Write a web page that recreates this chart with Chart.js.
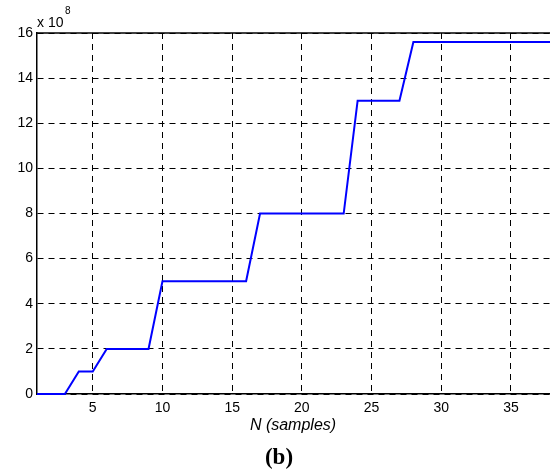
<!DOCTYPE html>
<html>
<head>
<meta charset="utf-8">
<script src="https://cdn.jsdelivr.net/npm/chart.js@4/dist/chart.umd.min.js"></script>
<style>
  html, body { margin: 0; padding: 0; background: #fff; }
  #wrap { width: 550px; height: 472px; }
</style>
</head>
<body>
<div id="wrap"><canvas id="stepChart" width="550" height="472"></canvas></div>
<script>
// samples N and values (x 10^8)
const samples = [1, 2, 3, 4, 5, 6, 7, 8, 9, 10, 11, 12, 13, 14, 15, 16, 17, 18, 19, 20,
  21, 22, 23, 24, 25, 26, 27, 28, 29, 30, 31, 32, 33, 34, 35, 36, 37, 38];
const values = [0, 0, 0, 1, 1, 2, 2, 2, 2, 5, 5, 5, 5, 5, 5, 5, 8, 8, 8, 8,
  8, 8, 8, 13, 13, 13, 13, 15.6, 15.6, 15.6, 15.6, 15.6, 15.6, 15.6, 15.6, 15.6, 15.6, 15.6];
const xTicks = [5, 10, 15, 20, 25, 30, 35];
const yTicks = [0, 2, 4, 6, 8, 10, 12, 14, 16];

const tickFont = { family: 'Liberation Sans, Arial, sans-serif', size: 14 };

// extra texts + solid top border
const extras = {
  id: 'extras',
  afterDraw(chart) {
    const { ctx, chartArea } = chart;
    ctx.save();
    ctx.strokeStyle = '#000';
    ctx.lineWidth = 1.5;
    ctx.beginPath();
    ctx.moveTo(chartArea.left, chartArea.top);
    ctx.lineTo(chartArea.right, chartArea.top);
    ctx.stroke();

    ctx.fillStyle = '#000';
    ctx.textBaseline = 'middle';
    ctx.textAlign = 'left';
    ctx.font = '14px Liberation Sans, Arial, sans-serif';
    ctx.fillText('x 10', 37, 23);
    ctx.font = '10px Liberation Sans, Arial, sans-serif';
    ctx.fillText('8', 65, 11);

    ctx.textAlign = 'center';
    ctx.font = 'italic 16px Liberation Sans, Arial, sans-serif';
    ctx.fillText('N (samples)', 293, 426);
    ctx.font = 'bold 23px Liberation Serif, Times New Roman, serif';
    ctx.fillText('(b)', 279, 458);
    ctx.restore();
  }
};

const ctxStep = document.getElementById('stepChart').getContext('2d');
const stepChart = new Chart(ctxStep, {
  type: 'line',
  data: {
    datasets: [
      {
        data: samples.map((x, i) => ({ x: x, y: values[i] })),
        borderColor: '#0000ff',
        borderWidth: 2,
        pointRadius: 0,
        tension: 0,
        fill: false,
        clip: 3,
      },
    ],
  },
  options: {
    responsive: false,
    animation: false,
    layout: { padding: { top: 33, right: 0, bottom: 0, left: 0 } },
    plugins: {
      legend: { display: false },
      tooltip: { enabled: false },
    },
    scales: {
      x: {
        type: 'linear',
        min: 1,
        max: 37.8,
        afterBuildTicks: (axis) => { axis.ticks = xTicks.map(v => ({ value: v })); },
        afterFit: (axis) => { axis.height = 78; },
        ticks: { color: '#000', font: tickFont, padding: 6, maxRotation: 0 },
        grid: { color: '#000', lineWidth: 1, drawTicks: false },
        border: { display: true, color: '#000', width: 1.5, dash: [6, 5] },
      },
      y: {
        min: 0,
        max: 16,
        afterBuildTicks: (axis) => { axis.ticks = yTicks.map(v => ({ value: v })); },
        afterFit: (axis) => { axis.width = 37; },
        ticks: { color: '#000', font: tickFont, padding: 4 },
        grid: { color: '#000', lineWidth: 1, drawTicks: false },
        border: { display: true, color: '#000', width: 1.5, dash: [6, 5] },
      },
    },
  },
  plugins: [extras],
});
</script>
</body>
</html>
